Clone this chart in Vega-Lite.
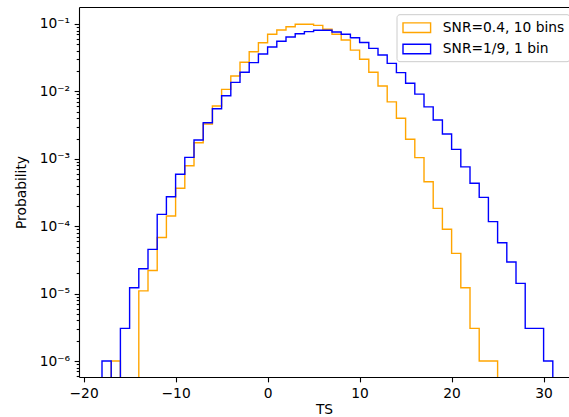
{
  "$schema": "https://vega.github.io/schema/vega-lite/v6.json",
  "width": 490,
  "height": 370,
  "autosize": {"type": "none"},
  "padding": {"left": 79, "top": 7, "right": 0, "bottom": 40},
  "background": "white",
  "config": {
    "font": "DejaVu Sans",
    "view": {"stroke": null},
    "axis": {
      "grid": false,
      "domainColor": "black",
      "domainWidth": 1.1,
      "tickColor": "black",
      "tickWidth": 1.1,
      "labelColor": "black",
      "titleColor": "black",
      "labelFontSize": 13.8,
      "titleFontSize": 13.8,
      "titleFontWeight": "normal",
      "labelFont": "DejaVu Sans",
      "titleFont": "DejaVu Sans"
    }
  },
  "data": {
    "values": [
      {"series": "SNR=0.4, 10 bins", "ts": -18, "p": 1e-9},
      {"series": "SNR=0.4, 10 bins", "ts": -17, "p": 1.0e-6},
      {"series": "SNR=0.4, 10 bins", "ts": -16, "p": 1e-9},
      {"series": "SNR=0.4, 10 bins", "ts": -15, "p": 1e-9},
      {"series": "SNR=0.4, 10 bins", "ts": -14, "p": 1.1e-5},
      {"series": "SNR=0.4, 10 bins", "ts": -13, "p": 2.2e-5},
      {"series": "SNR=0.4, 10 bins", "ts": -12, "p": 6.8e-5},
      {"series": "SNR=0.4, 10 bins", "ts": -11, "p": 1.42e-4},
      {"series": "SNR=0.4, 10 bins", "ts": -10, "p": 3.65e-4},
      {"series": "SNR=0.4, 10 bins", "ts": -9, "p": 7.9e-4},
      {"series": "SNR=0.4, 10 bins", "ts": -8, "p": 1.73e-3},
      {"series": "SNR=0.4, 10 bins", "ts": -7, "p": 3.28e-3},
      {"series": "SNR=0.4, 10 bins", "ts": -6, "p": 6.07e-3},
      {"series": "SNR=0.4, 10 bins", "ts": -5, "p": 1.07e-2},
      {"series": "SNR=0.4, 10 bins", "ts": -4, "p": 1.69e-2},
      {"series": "SNR=0.4, 10 bins", "ts": -3, "p": 2.7e-2},
      {"series": "SNR=0.4, 10 bins", "ts": -2, "p": 3.88e-2},
      {"series": "SNR=0.4, 10 bins", "ts": -1, "p": 5.28e-2},
      {"series": "SNR=0.4, 10 bins", "ts": 0, "p": 7.03e-2},
      {"series": "SNR=0.4, 10 bins", "ts": 1, "p": 8.15e-2},
      {"series": "SNR=0.4, 10 bins", "ts": 2, "p": 9.12e-2},
      {"series": "SNR=0.4, 10 bins", "ts": 3, "p": 9.89e-2},
      {"series": "SNR=0.4, 10 bins", "ts": 4, "p": 9.89e-2},
      {"series": "SNR=0.4, 10 bins", "ts": 5, "p": 9.55e-2},
      {"series": "SNR=0.4, 10 bins", "ts": 6, "p": 8.34e-2},
      {"series": "SNR=0.4, 10 bins", "ts": 7, "p": 7.03e-2},
      {"series": "SNR=0.4, 10 bins", "ts": 8, "p": 5.8e-2},
      {"series": "SNR=0.4, 10 bins", "ts": 9, "p": 4.1e-2},
      {"series": "SNR=0.4, 10 bins", "ts": 10, "p": 3.0e-2},
      {"series": "SNR=0.4, 10 bins", "ts": 11, "p": 1.92e-2},
      {"series": "SNR=0.4, 10 bins", "ts": 12, "p": 1.2e-2},
      {"series": "SNR=0.4, 10 bins", "ts": 13, "p": 7.0e-3},
      {"series": "SNR=0.4, 10 bins", "ts": 14, "p": 4.0e-3},
      {"series": "SNR=0.4, 10 bins", "ts": 15, "p": 1.95e-3},
      {"series": "SNR=0.4, 10 bins", "ts": 16, "p": 1.04e-3},
      {"series": "SNR=0.4, 10 bins", "ts": 17, "p": 4.57e-4},
      {"series": "SNR=0.4, 10 bins", "ts": 18, "p": 1.84e-4},
      {"series": "SNR=0.4, 10 bins", "ts": 19, "p": 9.0e-5},
      {"series": "SNR=0.4, 10 bins", "ts": 20, "p": 3.96e-5},
      {"series": "SNR=0.4, 10 bins", "ts": 21, "p": 1.22e-5},
      {"series": "SNR=0.4, 10 bins", "ts": 22, "p": 3.05e-6},
      {"series": "SNR=0.4, 10 bins", "ts": 23, "p": 1.0e-6},
      {"series": "SNR=0.4, 10 bins", "ts": 24, "p": 1.0e-6},
      {"series": "SNR=0.4, 10 bins", "ts": 25, "p": 1e-9},
      {"series": "SNR=1/9, 1 bin", "ts": -19, "p": 1e-9},
      {"series": "SNR=1/9, 1 bin", "ts": -18, "p": 1.0e-6},
      {"series": "SNR=1/9, 1 bin", "ts": -17, "p": 1e-9},
      {"series": "SNR=1/9, 1 bin", "ts": -16, "p": 3.05e-6},
      {"series": "SNR=1/9, 1 bin", "ts": -15, "p": 1.22e-5},
      {"series": "SNR=1/9, 1 bin", "ts": -14, "p": 2.34e-5},
      {"series": "SNR=1/9, 1 bin", "ts": -13, "p": 4.54e-5},
      {"series": "SNR=1/9, 1 bin", "ts": -12, "p": 1.5e-4},
      {"series": "SNR=1/9, 1 bin", "ts": -11, "p": 2.73e-4},
      {"series": "SNR=1/9, 1 bin", "ts": -10, "p": 5.9e-4},
      {"series": "SNR=1/9, 1 bin", "ts": -9, "p": 1.05e-3},
      {"series": "SNR=1/9, 1 bin", "ts": -8, "p": 1.9e-3},
      {"series": "SNR=1/9, 1 bin", "ts": -7, "p": 3.43e-3},
      {"series": "SNR=1/9, 1 bin", "ts": -6, "p": 5.54e-3},
      {"series": "SNR=1/9, 1 bin", "ts": -5, "p": 8.6e-3},
      {"series": "SNR=1/9, 1 bin", "ts": -4, "p": 1.36e-2},
      {"series": "SNR=1/9, 1 bin", "ts": -3, "p": 1.92e-2},
      {"series": "SNR=1/9, 1 bin", "ts": -2, "p": 2.67e-2},
      {"series": "SNR=1/9, 1 bin", "ts": -1, "p": 3.59e-2},
      {"series": "SNR=1/9, 1 bin", "ts": 0, "p": 4.56e-2},
      {"series": "SNR=1/9, 1 bin", "ts": 1, "p": 5.53e-2},
      {"series": "SNR=1/9, 1 bin", "ts": 2, "p": 6.41e-2},
      {"series": "SNR=1/9, 1 bin", "ts": 3, "p": 7.18e-2},
      {"series": "SNR=1/9, 1 bin", "ts": 4, "p": 7.69e-2},
      {"series": "SNR=1/9, 1 bin", "ts": 5, "p": 8.07e-2},
      {"series": "SNR=1/9, 1 bin", "ts": 6, "p": 8.07e-2},
      {"series": "SNR=1/9, 1 bin", "ts": 7, "p": 7.6e-2},
      {"series": "SNR=1/9, 1 bin", "ts": 8, "p": 7.03e-2},
      {"series": "SNR=1/9, 1 bin", "ts": 9, "p": 6.26e-2},
      {"series": "SNR=1/9, 1 bin", "ts": 10, "p": 5.3e-2},
      {"series": "SNR=1/9, 1 bin", "ts": 11, "p": 4.35e-2},
      {"series": "SNR=1/9, 1 bin", "ts": 12, "p": 3.47e-2},
      {"series": "SNR=1/9, 1 bin", "ts": 13, "p": 2.6e-2},
      {"series": "SNR=1/9, 1 bin", "ts": 14, "p": 1.9e-2},
      {"series": "SNR=1/9, 1 bin", "ts": 15, "p": 1.32e-2},
      {"series": "SNR=1/9, 1 bin", "ts": 16, "p": 9.1e-3},
      {"series": "SNR=1/9, 1 bin", "ts": 17, "p": 5.9e-3},
      {"series": "SNR=1/9, 1 bin", "ts": 18, "p": 3.77e-3},
      {"series": "SNR=1/9, 1 bin", "ts": 19, "p": 2.33e-3},
      {"series": "SNR=1/9, 1 bin", "ts": 20, "p": 1.38e-3},
      {"series": "SNR=1/9, 1 bin", "ts": 21, "p": 7.6e-4},
      {"series": "SNR=1/9, 1 bin", "ts": 22, "p": 4.33e-4},
      {"series": "SNR=1/9, 1 bin", "ts": 23, "p": 2.68e-4},
      {"series": "SNR=1/9, 1 bin", "ts": 24, "p": 1.17e-4},
      {"series": "SNR=1/9, 1 bin", "ts": 25, "p": 5.7e-5},
      {"series": "SNR=1/9, 1 bin", "ts": 26, "p": 2.94e-5},
      {"series": "SNR=1/9, 1 bin", "ts": 27, "p": 1.42e-5},
      {"series": "SNR=1/9, 1 bin", "ts": 28, "p": 3.05e-6},
      {"series": "SNR=1/9, 1 bin", "ts": 29, "p": 3.05e-6},
      {"series": "SNR=1/9, 1 bin", "ts": 30, "p": 1.0e-6},
      {"series": "SNR=1/9, 1 bin", "ts": 31, "p": 1e-9}
    ]
  },
  "layer": [
    {
      "transform": [{"filter": "datum.series === 'SNR=0.4, 10 bins'"}],
      "mark": {"type": "line", "interpolate": "step-after", "clip": true, "strokeWidth": 1.4},
      "encoding": {
        "x": {
          "field": "ts", "type": "quantitative",
          "scale": {"domain": [-20.5, 32.76], "nice": false, "zero": false},
          "axis": {"orient": "bottom", "values": [-20, -10, 0, 10, 20, 30], "tickSize": 4.86, "labelPadding": 4.5, "title": "TS", "titlePadding": 2, "labelFlush": false, "labelOverlap": false}
        },
        "y": {
          "field": "p", "type": "quantitative",
          "scale": {"type": "log", "domain": [5.8e-7, 0.1786], "nice": false},
          "axis": {
            "title": "Probability",
            "titlePadding": 11,
            "values": [6e-7, 7e-7, 8e-7, 9e-7, 1e-6, 2e-6, 3e-6, 4e-6, 5e-6, 6e-6, 7e-6, 8e-6, 9e-6, 1e-5, 2e-5, 3e-5, 4e-5, 5e-5, 6e-5, 7e-5, 8e-5, 9e-5, 1e-4, 2e-4, 3e-4, 4e-4, 5e-4, 6e-4, 7e-4, 8e-4, 9e-4, 1e-3, 2e-3, 3e-3, 4e-3, 5e-3, 6e-3, 7e-3, 8e-3, 9e-3, 1e-2, 2e-2, 3e-2, 4e-2, 5e-2, 6e-2, 7e-2, 8e-2, 9e-2, 1e-1],
            "labelExpr": "abs(log(datum.value)/LN10 - round(log(datum.value)/LN10)) < 0.001 ? '10⁻' + ['⁰','¹','²','³','⁴','⁵','⁶','⁷','⁸','⁹'][-round(log(datum.value)/LN10)] : ''",
            "tickSize": {"condition": {"test": "abs(log(datum.value)/LN10 - round(log(datum.value)/LN10)) < 0.001", "value": 4.86}, "value": 2.78},
            "labelPadding": 4.5,
            "labelOverlap": false,
            "labelFlush": false
          }
        },
        "color": {
          "field": "series", "type": "nominal",
          "scale": {"domain": ["SNR=0.4, 10 bins", "SNR=1/9, 1 bin"], "range": ["orange", "blue"]},
          "legend": {
            "title": null, "orient": "none", "legendX": 317.5, "legendY": 7.2,
            "symbolType": "M-1.725,-0.6H1.725V0.6H-1.725Z", "symbolSize": 256, "symbolStrokeWidth": 1.4,
            "symbolFillColor": "transparent", "symbolOffset": 6.8, "labelOffset": 17,
            "labelFontSize": 13.8, "labelColor": "black", "labelFont": "DejaVu Sans",
            "padding": 4.5, "rowPadding": 4.3, "strokeColor": "#cccccc", "fillColor": "rgba(255,255,255,0.8)", "cornerRadius": 3
          }
        }
      }
    },
    {
      "transform": [{"filter": "datum.series === 'SNR=1/9, 1 bin'"}],
      "mark": {"type": "line", "interpolate": "step-after", "clip": true, "strokeWidth": 1.4},
      "encoding": {
        "x": {
          "field": "ts", "type": "quantitative",
          "scale": {"domain": [-20.5, 32.76], "nice": false, "zero": false},
          "axis": {"orient": "top", "labels": false, "ticks": false, "title": null, "domain": true}
        },
        "y": {
          "field": "p", "type": "quantitative",
          "scale": {"type": "log", "domain": [5.8e-7, 0.1786], "nice": false}
        },
        "color": {
          "field": "series", "type": "nominal",
          "scale": {"domain": ["SNR=0.4, 10 bins", "SNR=1/9, 1 bin"], "range": ["orange", "blue"]}
        }
      }
    }
  ],
  "resolve": {"axis": {"x": "independent"}}
}
